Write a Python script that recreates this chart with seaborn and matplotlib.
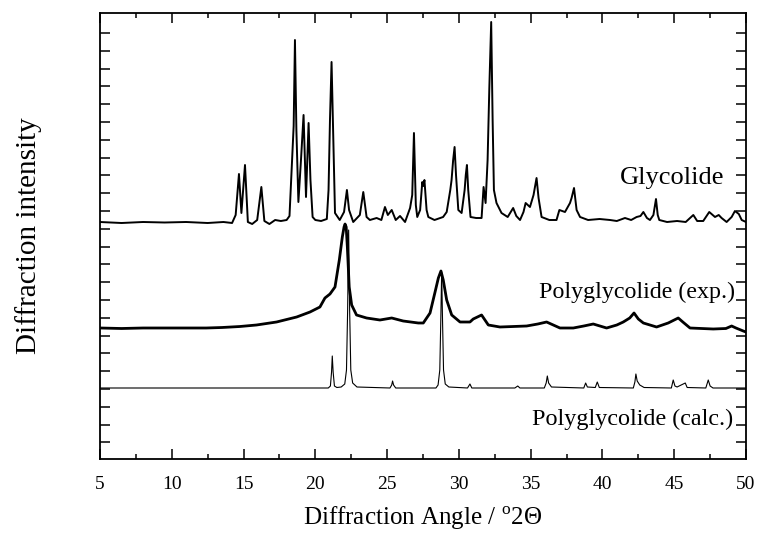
import matplotlib
matplotlib.use("Agg")
import matplotlib.pyplot as plt
import numpy as np
import pandas as pd
import seaborn as sns
from matplotlib.ticker import MultipleLocator, FixedLocator

# ---------------- data (intensity in arbitrary units, traces offset as drawn) -------------
glycolide_x = [5.0, 6.5, 8.0, 9.5, 11.0, 12.5, 13.6, 14.2,
               14.45, 14.68, 14.85, 15.10, 15.3, 15.6, 15.95, 16.24, 16.45, 16.8, 17.2, 17.6,
               18.0, 18.2, 18.35, 18.49, 18.58, 18.68, 18.82, 19.0, 19.18, 19.35, 19.53, 19.66,
               19.81, 20.0, 20.4, 20.8, 20.92, 21.02, 21.13, 21.24, 21.37, 21.7, 22.0, 22.2,
               22.35, 22.64, 23.1, 23.34, 23.57, 23.8, 24.27, 24.6, 24.85, 25.05, 25.32, 25.6,
               25.9, 26.25, 26.6, 26.75, 26.87, 27.0, 27.1, 27.3, 27.45, 27.52, 27.6, 27.75,
               27.87, 28.3, 28.9, 29.15, 29.4, 29.49, 29.6, 29.70, 29.8, 29.96, 30.19, 30.4,
               30.48, 30.56, 30.65, 30.81, 31.2, 31.58, 31.72, 31.86, 32.0, 32.12, 32.25, 32.35,
               32.44, 32.62, 32.97, 33.4, 33.78, 34.0, 34.26, 34.5, 34.65, 34.95, 35.2, 35.41,
               35.55, 35.76, 36.3, 36.8, 37.0, 37.39, 37.74, 37.85, 38.02, 38.2, 38.44, 39.0,
               39.8, 40.53, 41.0, 41.57, 42.0, 42.38, 42.65, 42.85, 43.1, 43.31, 43.55, 43.73,
               43.85, 43.96, 44.5, 45.2, 45.8, 46.33, 46.6, 47.02, 47.44, 47.84, 48.1, 48.3,
               48.65, 49.0, 49.23, 49.5, 49.7, 50.0]
glycolide_y = [238, 237, 238, 237.5, 238, 237, 238, 237,
               245, 286, 247, 295, 238, 236, 240, 273, 239, 236, 240, 239,
               240, 244, 290, 334, 420, 330, 258, 300, 345, 263, 337, 280,
               243, 240, 239, 241, 270, 340, 398, 330, 247, 240, 248, 270,
               250, 238, 245, 268, 243, 240, 242, 240, 253, 245, 250, 240,
               244, 238, 252, 265, 327, 255, 243, 250, 278, 274, 280, 250,
               243, 240, 243, 248, 270, 280, 300, 313, 285, 250, 247, 270,
               285, 295, 270, 243, 242, 242, 273, 257, 300, 372, 438, 340,
               270, 257, 247, 243, 252, 244, 240, 248, 257, 253, 265, 282,
               262, 243, 240, 240, 250, 248, 257, 262, 272, 250, 243, 240,
               241, 240, 239, 242, 240, 243, 244, 248, 242, 240, 245, 261,
               245, 240, 238, 239, 238, 245, 239, 239, 248, 243, 245, 242,
               238, 243, 249, 246, 240, 238]

pga_exp_x = [5.0, 6.5, 8.0, 9.5, 11.0, 12.4, 13.5, 14.75, 15.9, 17.3, 18.7, 19.63, 20.32,
             20.67, 21.02, 21.37, 21.67, 21.88, 22.0, 22.07, 22.15, 22.23, 22.36, 22.53, 22.87,
             23.57, 24.5, 25.32, 26.12, 27.17, 27.52, 27.99, 28.34, 28.57, 28.75, 28.91, 29.15,
             29.5, 30.08, 30.3, 30.77, 31.0, 31.58, 32.05, 32.86, 33.8, 34.72, 35.5, 36.11,
             37.04, 37.97, 38.7, 39.36, 40.29, 41.0, 41.45, 41.9, 42.2, 42.5, 42.85, 43.77,
             44.58, 45.0, 45.28, 45.6, 46.1, 47.72, 48.6, 49.0, 49.3, 49.81, 50.0]
pga_exp_y = [132, 131.5, 132, 132, 132, 132, 132.5, 133.5, 135, 138, 143, 148, 153,
             162, 166, 173, 200, 223, 233, 236, 233, 213, 173, 155, 145,
             142, 140, 142, 139, 137, 137, 147, 168, 182, 189, 180, 160,
             145, 138, 138, 138, 141, 145, 135, 133, 133.5, 134, 136, 138,
             132, 132, 134, 136, 132, 135, 138, 142, 147, 141, 137, 133,
             137, 140, 142, 138, 132, 131, 131.5, 134, 132, 129, 128]

pga_calc_x = [5.0, 20.9, 21.05, 21.13, 21.18, 21.24, 21.33, 21.5, 21.8, 22.05, 22.17, 22.25,
              22.32, 22.39, 22.47, 22.6, 22.9, 25.2, 25.32, 25.38, 25.45, 25.6, 28.4, 28.55,
              28.67, 28.74, 28.8, 28.86, 28.93, 29.05, 29.3, 30.6, 30.77, 30.9, 33.9, 34.1,
              34.25, 35.95, 36.08, 36.16, 36.25, 36.45, 38.7, 38.83, 38.95, 39.5, 39.64, 39.78,
              42.15, 42.26, 42.33, 42.42, 42.6, 42.9, 44.8, 44.93, 45.05, 45.2, 45.77, 45.9,
              47.2, 47.37, 47.5, 47.7, 50.0]
pga_calc_y = [72, 72, 74, 88, 104, 88, 74, 72.5, 73, 76, 90, 150,
              230, 150, 90, 77, 73, 72, 75, 79, 75, 72, 72, 75,
              90, 140, 188, 140, 90, 76, 73, 72, 76, 72, 72, 74,
              72, 72, 77, 84, 77, 73, 72, 77, 73, 72.5, 78, 72.5,
              72, 78, 86, 79, 75, 72.5, 72, 80, 74, 73, 77, 72.5,
              72, 80, 74, 72, 72]

trace_names = ["Glycolide", "Polyglycolide (exp.)", "Polyglycolide (calc.)"]
x_ticks = [5, 10, 15, 20, 25, 30, 35, 40, 45, 50]

# ---------------- figure ----------------
sns.set_theme(style="ticks")
plt.rcParams["font.family"] = ["Liberation Serif", "DejaVu Serif"]
plt.rcParams["mathtext.fontset"] = "custom"
plt.rcParams["mathtext.rm"] = "Liberation Serif"

fig = plt.figure(figsize=(7.58, 5.34), dpi=100)
ax = fig.add_axes([100 / 758, 75 / 534, 646 / 758, 446 / 534])

df_g = pd.DataFrame({"x": glycolide_x, "y": glycolide_y})
df_e = pd.DataFrame({"x": pga_exp_x, "y": pga_exp_y})
df_c = pd.DataFrame({"x": pga_calc_x, "y": pga_calc_y})

sns.lineplot(data=df_g, x="x", y="y", ax=ax, color="black", linewidth=1.4,
             estimator=None, sort=False)
sns.lineplot(data=df_e, x="x", y="y", ax=ax, color="black", linewidth=2.0,
             estimator=None, sort=False)
sns.lineplot(data=df_c, x="x", y="y", ax=ax, color="black", linewidth=0.8,
             estimator=None, sort=False)

ax.set_xlim(5, 50)
ax.set_ylim(1, 447)

ax.xaxis.set_major_locator(FixedLocator(x_ticks))
ax.xaxis.set_minor_locator(MultipleLocator(2.5))
ax.set_xticklabels([str(t) for t in x_ticks])
ax.yaxis.set_major_locator(FixedLocator(list(np.arange(17.6, 440, 17.8))))
ax.set_yticklabels([])

ax.tick_params(axis="both", which="both", direction="in", top=True, right=True,
               color="black", width=1.1)
ax.tick_params(axis="x", which="major", length=7.5, labelsize=14, pad=12,
               labelcolor="black")
ax.tick_params(axis="x", which="minor", length=3.8)
ax.tick_params(axis="y", which="major", length=7.5)

for s in ax.spines.values():
    s.set_color("black")
    s.set_linewidth(1.3)

ax.set_xlabel(r"Diffraction Angle / $^{\mathrm{o}}$2Θ", fontsize=18, color="black",
              labelpad=9)
ax.set_ylabel("Diffraction intensity", fontsize=21, color="black", labelpad=38)

label_specs = [(48.47, 282, 19), (49.23, 168, 17.3), (49.09, 41, 17.4)]
for name, (lx, ly, fs) in zip(trace_names, label_specs):
    ax.text(lx, ly, name, ha="right", va="center", fontsize=fs, color="black")

fig.savefig("out.png", dpi=100, facecolor="white")
